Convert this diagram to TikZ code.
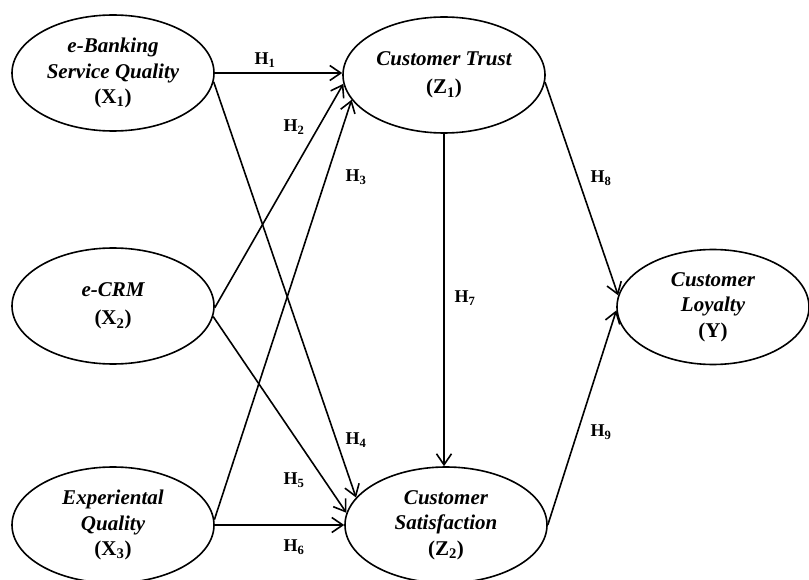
\documentclass[tikz,border=0pt]{standalone}
\usepackage{fontspec}
\setmainfont{Liberation Serif}
\usetikzlibrary{arrows.meta,shapes.geometric}
\begin{document}
\begin{tikzpicture}[x=1pt,y=-1pt,
  latent/.style={ellipse,draw,line width=1.6pt,minimum width=202pt,minimum height=116pt,inner sep=0pt,align=center,font=\fontsize{21}{25.5}\selectfont\bfseries\itshape},
  conn/.style={line width=1.6pt,-{Straight Barb[length=11pt,width=15pt]}},
  hlab/.style={font=\fontsize{18}{20}\selectfont\bfseries,inner sep=0pt}]
\useasboundingbox (0,0) rectangle (809,580);
\node[latent] (x1) at (113,73) {e-Banking\\Service Quality\\\upshape(X\textsubscript{1})};
\node[latent] (x2) at (113,306) {e-CRM\\[3pt]\upshape(X\textsubscript{2})};
\node[latent] (x3) at (113,525) {Experiental\\Quality\\\upshape(X\textsubscript{3})};
\node[latent] (z1) at (444,75) {Customer Trust\\[3pt]\upshape(Z\textsubscript{1})};
\node[latent] (z2) at (446,525) {Customer\\Satisfaction\\\upshape(Z\textsubscript{2})};
\node[latent,minimum width=192pt,minimum height=115pt] (y) at (713,307) {Customer\\Loyalty\\\upshape(Y)};
\draw[conn] (x1.east) -- (x1.east -| z1.west);
\draw[conn] (x1.-5) -- (z2.163);
\draw[conn] (x2.-1) -- (z1.185);
\draw[conn] (x3.3) -- (z1.195);
\draw[conn] (x2.-6) -- (z2.173);
\draw[conn] (x3.east) -- (x3.east -| z2.west);
\draw[conn] (z1.south) -- (z1.south |- z2.north);
\draw[conn] (z1.-4) -- (y.173);
\draw[conn] (z2.east) -- (y.182);
\node[hlab] (h1) at (265,60) {H\textsubscript{1}};
\node[hlab] (h2) at (294,127) {H\textsubscript{2}};
\node[hlab] (h3) at (356,177) {H\textsubscript{3}};
\node[hlab] (h4) at (356,440) {H\textsubscript{4}};
\node[hlab] (h5) at (294,480) {H\textsubscript{5}};
\node[hlab] (h6) at (294,547) {H\textsubscript{6}};
\node[hlab] (h7) at (465,298) {H\textsubscript{7}};
\node[hlab] (h8) at (601,178) {H\textsubscript{8}};
\node[hlab] (h9) at (601,432) {H\textsubscript{9}};
\end{tikzpicture}
\end{document}
